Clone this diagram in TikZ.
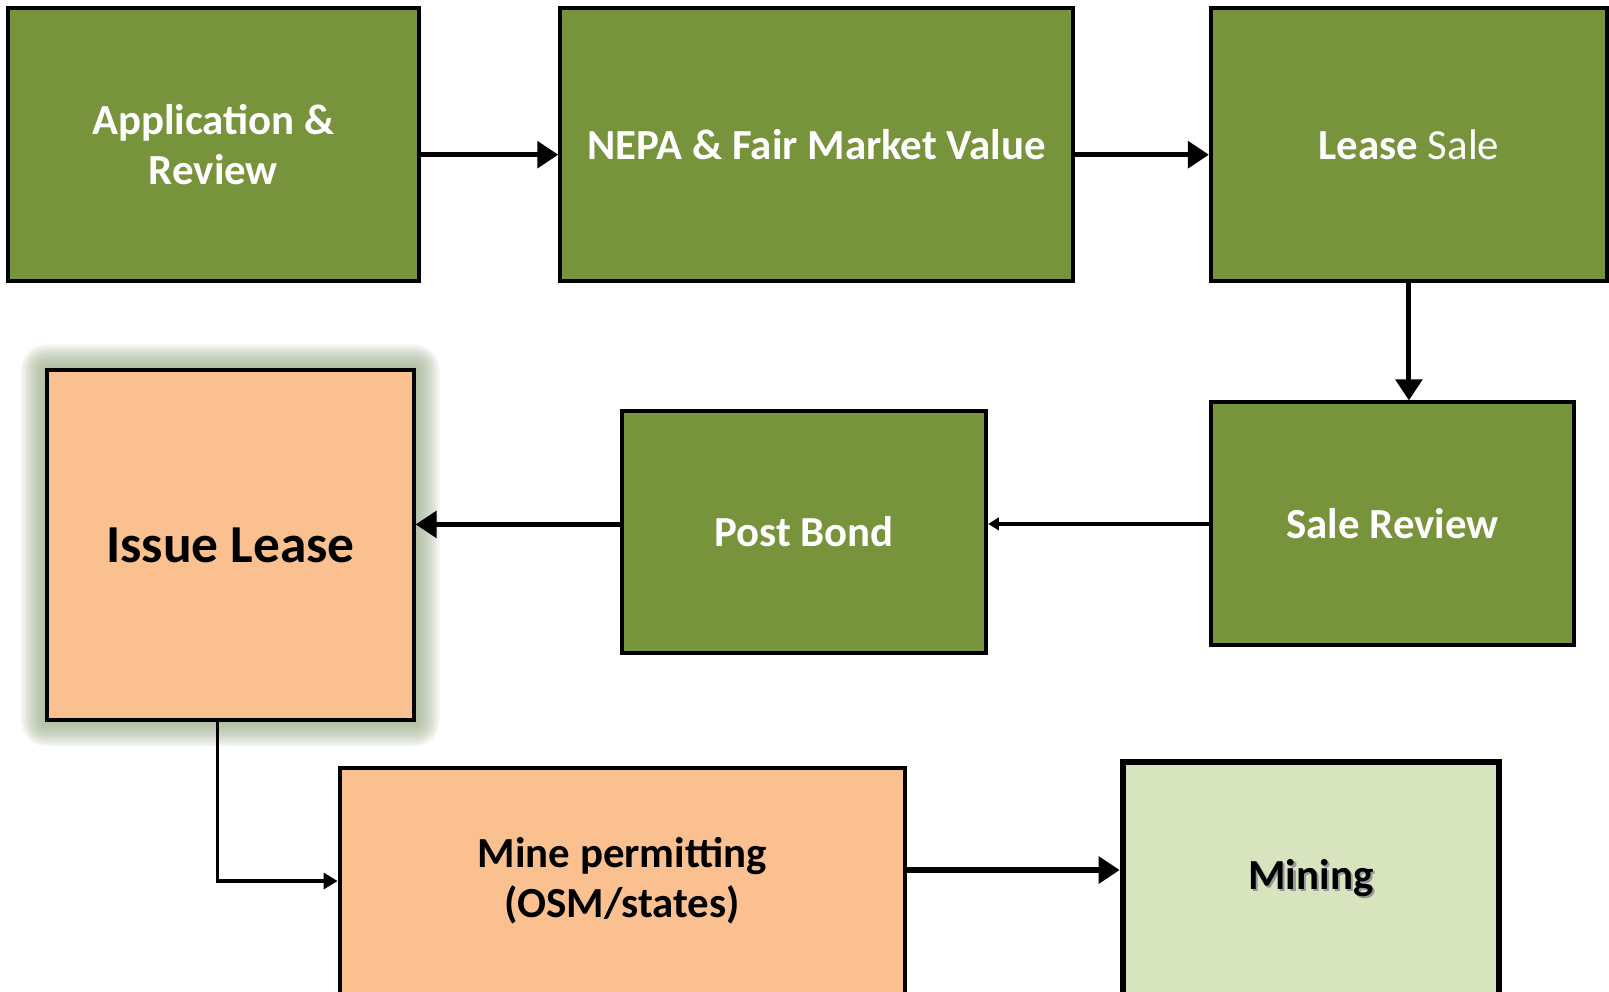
\documentclass[tikz,border=0pt]{standalone}
\usepackage{fontspec}
\setmainfont{Carlito}
\usetikzlibrary{arrows.meta,calc,backgrounds}
\definecolor{boxgreen}{HTML}{77933C}
\definecolor{boxpeach}{HTML}{FAC090}
\definecolor{boxlight}{HTML}{D7E4BD}
\definecolor{glowgreen}{HTML}{9AAA88}
\newcommand\myshadowtext[1]{\makebox[0pt][l]{\raisebox{-1.3pt}{\hspace{1.3pt}\textcolor{black!40}{#1}}}#1}
\tikzset{mygreenbox/.style={draw,line width=2.3pt,fill=boxgreen,text=white,align=center,inner sep=0pt,
  font=\bfseries\fontsize{24.4}{28.6}\selectfont},
mypeachbox/.style={draw,line width=2.3pt,fill=boxpeach,align=center,inner sep=0pt,
  font=\bfseries\fontsize{24.4}{28.6}\selectfont},
myarrow/.style={line width=2.9pt,-{Triangle[length=12pt,width=15pt]}},
mymidarrow/.style={line width=2pt,-{Triangle[length=8pt,width=9pt]}},
mythinarrow/.style={line width=2pt,-{Triangle[length=6pt,width=7pt]}}}

\begin{document}
\begin{tikzpicture}[x=0.02cm,y=-0.02cm]
\useasboundingbox (0,0) rectangle (1609,991);
% top row
\node[mygreenbox,minimum width=8.21cm,minimum height=5.46cm] (A) at (213.4,144.7) {Application \&\\Review};
\node[mygreenbox,minimum width=10.26cm,minimum height=5.46cm] (B) at (816.8,144.7) {NEPA \& Fair Market Value};
\node[mygreenbox,minimum width=7.92cm,minimum height=5.46cm] (C) at (1408.9,144.7) {Lease \mdseries Sale};
% middle row
\node[mygreenbox,minimum width=7.26cm,minimum height=4.86cm] (D) at (1392.5,523.9) {Sale Review};
\node[mygreenbox,minimum width=7.29cm,minimum height=4.84cm] (E) at (804,531.6) {Post Bond};
\node[mypeachbox,minimum width=7.33cm,minimum height=7cm,font=\bfseries\fontsize{30.4}{36}\selectfont] (F) at (230.4,545.4) {Issue Lease};
% bottom row
\node[mypeachbox,minimum width=11.31cm,minimum height=4.54cm] (G) at (622.4,881) {Mine permitting\\(OSM/states)};
\node[mypeachbox,fill=boxlight,line width=3.4pt,minimum width=7.53cm,minimum height=4.68cm] (H) at (1310.9,879.4) {\myshadowtext{Mining}};
% glow behind the issued lease
\begin{scope}[on background layer]
\foreach \g in {2,4,...,24}
\fill[glowgreen,opacity=.1,rounded corners={\g*0.6pt}] ($(F.south west)+(-\g,\g)$) rectangle ($(F.north east)+(\g,-\g)$);
\end{scope}
% connectors
\draw[myarrow] ([yshift=-0.2cm]A.east) -- ([yshift=-0.2cm]B.west);
\draw[myarrow] ([yshift=-0.2cm]B.east) -- ([yshift=-0.2cm]C.west);
\draw[myarrow] (C.south) -- (C.south |- D.north);
\draw[mythinarrow] (D.west) -- (D.west -| E.east);
\coordinate (el) at ([yshift=0.144cm]E.west);
\draw[myarrow] (el) -- (el -| F.east);
\coordinate (fs) at ([xshift=-0.26cm]F.south);
\draw[mymidarrow] (fs) |- (G.west);
\coordinate (gm) at ([yshift=0.22cm]G.east);
\draw[myarrow] (gm) -- (gm -| H.west);
\end{tikzpicture}
\end{document}
